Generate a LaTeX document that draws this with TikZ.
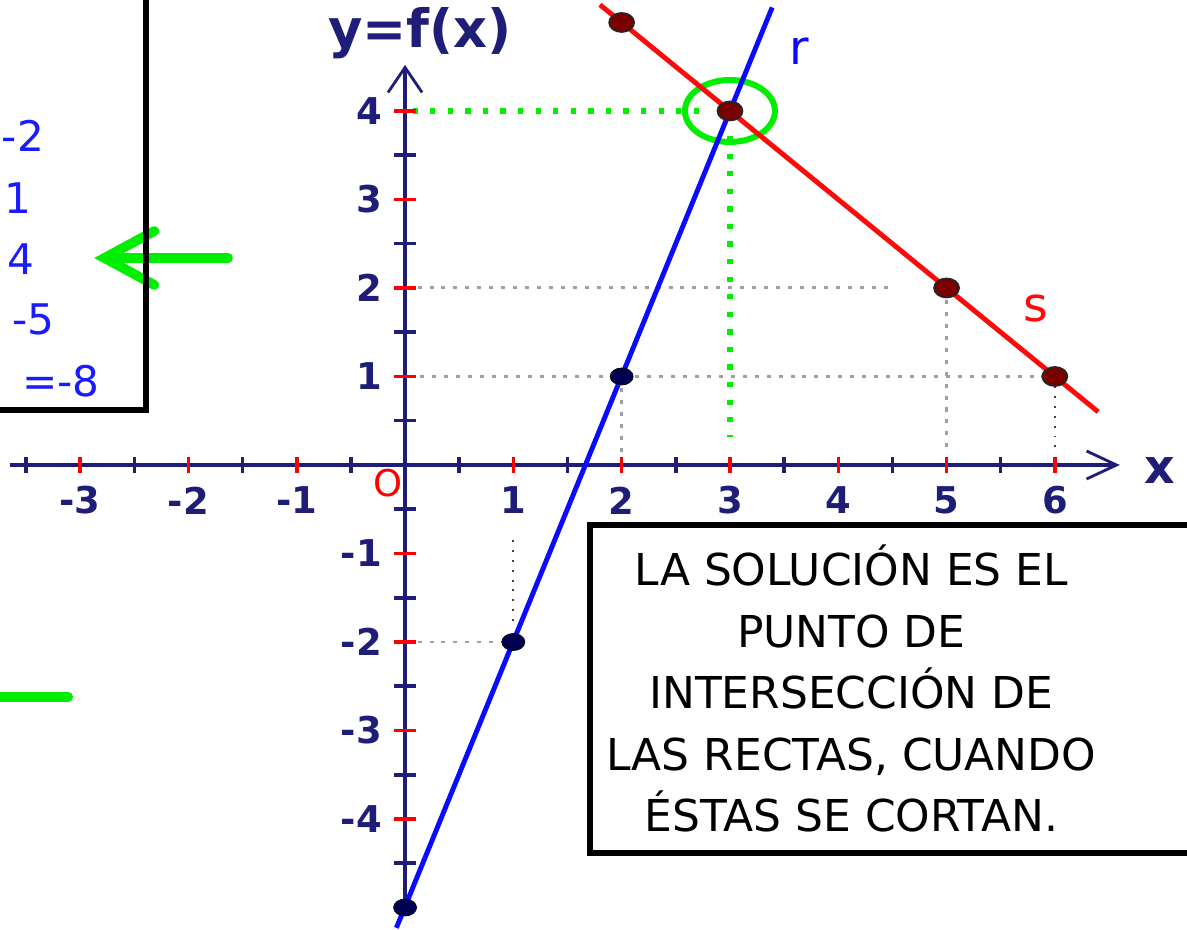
\documentclass[tikz,border=0pt]{standalone}
\usepackage{fontspec}
\setmainfont{DejaVu Sans}
\usetikzlibrary{arrows.meta, shapes.geometric, positioning, calc}
\usepackage{xcolor}
\definecolor{axisnavy}{HTML}{1E1E78}
\definecolor{rblue}{HTML}{0A0AFF}
\definecolor{sred}{HTML}{FF0A0A}
\definecolor{hlgreen}{HTML}{00EE00}
\definecolor{dotred}{HTML}{7A0000}
\definecolor{dotnavy}{HTML}{000050}
\definecolor{tabblue}{HTML}{1A1AFF}

\begin{document}
\begin{tikzpicture}[
    x=2.166cm, y=1.77cm,
    axis/.style={axisnavy, line width=2.3pt},
    tickmark/.style={line width=2pt},
    ticklab/.style={font=\fontsize{21}{24}\selectfont\bfseries, axisnavy, inner sep=0pt},
    guide/.style={gray!75, line width=1.7pt, dash pattern=on 2.3pt off 4.5pt},
    fineguide/.style={black!75, line width=1.1pt, dash pattern=on 1.1pt off 4.5pt},
    hlguide/.style={hlgreen, line width=3pt, dash pattern=on 3pt off 7pt},
    rline/.style={rblue, line width=2.8pt},
    sline/.style={sred, line width=2.8pt},
    rdot/.style={ellipse, draw=black, fill=dotnavy, minimum width=0.46cm, minimum height=0.34cm, inner sep=0pt},
    sdot/.style={ellipse, draw=black!85, fill=dotred, line width=1pt, minimum width=0.5cm, minimum height=0.38cm, inner sep=0pt},
    boxline/.style={black, line width=3.4pt},
    tabtxt/.style={font=\fontsize{24}{28}\selectfont, tabblue, anchor=east, inner sep=0pt},
    hlarrow/.style={hlgreen, line width=5.5pt, line cap=round},
]
\useasboundingbox (-3.74,-5.254) rectangle (7.22,5.254);
\clip (-3.74,-5.254) rectangle (7.22,5.254);

% point positions
\coordinate (o) at (0,0);
\coordinate (pr0) at (0,-5);
\coordinate (pr1) at (1,-2);
\coordinate (pr2) at (2,1);
\coordinate (ps2) at (2,5);
\coordinate (pcut) at (3,4);
\coordinate (ps5) at (5,2);
\coordinate (ps6) at (6,1);

% left table (cut off)
\draw[boxline] (-4,0.62) rectangle (-2.39,6);
\node[tabtxt] (tb1) at (-3.33,3.72) {-2};
\node[tabtxt] (tb2) at (-3.445,3.02) {1};
\node[tabtxt] (tb3) at (-3.416,2.33) {4};
\node[tabtxt] (tb4) at (-3.232,1.64) {-5};
\node[tabtxt] (tb5) at (-2.816,0.95) {=-8};

% green pointers on the left
\coordinate (atail) at (-1.634,2.339);
\coordinate (atip) at (-2.87,2.339);
\draw[hlarrow, -{Straight Barb[length=1cm, width=1.08cm, line cap=round]}] (atail) -- (atip);
\draw[boxline] (-2.39,0.62) -- (-2.39,6);
\coordinate (gA) at (-3.9,-2.62);
\coordinate (gB) at (-3.11,-2.62);
\draw[hlarrow] (gA) -- (gB);

% gray guides
\draw[guide] ([xshift=0.3cm]o |- ps6) -- (ps6);
\draw[guide] (pr2) -- ([yshift=0.25cm]pr2 |- o);
\coordinate (g2end) at (4.5,2);
\draw[guide] ([xshift=0.25cm]o |- ps5) -- (g2end);
\draw[guide] (ps5) -- ([yshift=0.25cm]ps5 |- o);
\draw[fineguide] (ps6) -- ([yshift=0.25cm]ps6 |- o);
\draw[guide] ([xshift=0.25cm]o |- pr1) -- (pr1);
\coordinate (f1top) at (1,-0.85);
\draw[fineguide] (f1top) -- ([yshift=0.3cm]pr1);

% green guides to the solution
\draw[hlguide] ([xshift=0.15cm]o |- pcut) -- ([xshift=-0.62cm]pcut);
\draw[hlguide] ([yshift=-0.5cm]pcut) -- ([yshift=0.55cm]pcut |- o);
\node[draw=hlgreen, ellipse, line width=3.4pt, minimum width=1.8cm, minimum height=1.24cm, inner sep=0pt] (ring) at (pcut) {};

% axes
\coordinate (xstart) at (-3.65,0);
\coordinate (xend) at (6.6,0);
\coordinate (ystart) at (0,-5.03);
\coordinate (yend) at (0,4.52);
\draw[axis, -{Straight Barb[length=6mm, width=5.6mm, line width=1.6pt]}] (xstart) -- (xend);
\draw[axis, -{Straight Barb[length=5mm, width=6.8mm, line width=1.6pt]}] (ystart) -- (yend);
\foreach \t in {-3.5,-2.5,...,5.5}
    \draw[tickmark, axisnavy] (\t,-0.09) -- (\t,0.09);
\foreach \t in {-3,-2,-1,1,2,3,4,5,6}
    \draw[tickmark, red] (\t,-0.09) -- (\t,0.09);
\foreach \t in {-4.5,-3.5,...,3.5}
    \draw[tickmark, axisnavy] (-0.1,\t) -- (0.1,\t);
\foreach \t in {-4,-3,-2,-1,1,2,3,4}
    \draw[tickmark, red] (-0.1,\t) -- (0.1,\t);

% tick labels
\foreach \t in {-3,-2,-1,1,2,3,4,5,6}
    \node[ticklab] (xl\t) at (\t,-0.4) {\t};
\foreach \t in {-4,-3,-2,-1,1,2,3,4}
    \node[ticklab, anchor=east] (yl\t) at (-0.21,\t) {\t};
\node[font=\fontsize{21}{24}\selectfont, red, inner sep=0pt] (olab) at (-0.16,-0.2) {O};
\node[font=\fontsize{30}{34}\selectfont\bfseries, axisnavy, inner sep=0pt] (ylab) at (0.14,4.88) {y=f(x)};
\node[font=\fontsize{27}{32}\selectfont\bfseries, axisnavy, inner sep=0pt] (xlab) at (6.97,-0.06) {x};

% the two lines
\coordinate (rA) at (-0.08,-5.23);
\coordinate (rB) at (3.39,5.17);
\coordinate (sA) at (1.8,5.2);
\coordinate (sB) at (6.4,0.6);
\draw[rline] (rA) -- (rB);
\draw[sline] (sA) -- (sB);
\node[font=\fontsize{27}{32}\selectfont, rblue, inner sep=0pt] (rlab) at (3.64,4.67) {r};
\node[font=\fontsize{27}{32}\selectfont, sred, inner sep=0pt] (slab) at (5.82,1.77) {s};

% points
\node[rdot] (r0) at (pr0) {};
\node[rdot] (r1) at (pr1) {};
\node[rdot] (r2) at (pr2) {};
\node[sdot] (s2) at (ps2) {};
\node[sdot] (cut) at (pcut) {};
\node[sdot] (s5) at (ps5) {};
\node[sdot] (s6) at (ps6) {};

% answer box
\draw[boxline] (1.71,-0.68) rectangle (7.6,-4.38);
\node[font=\fontsize{25}{35}\selectfont, align=center, inner sep=0pt] (sol) at (4.12,-2.53)
    {LA SOLUCIÓN ES EL\\PUNTO DE\\INTERSECCIÓN DE\\LAS RECTAS, CUANDO\\ÉSTAS SE CORTAN.};

\end{tikzpicture}
\end{document}
